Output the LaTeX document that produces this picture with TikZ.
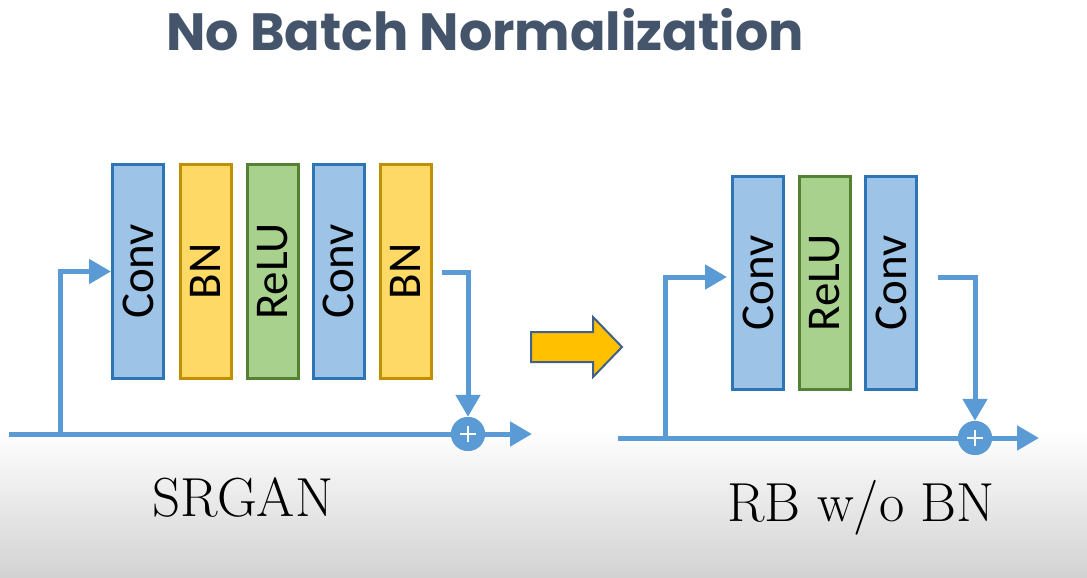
\documentclass[tikz,border=0pt]{standalone}
\usepackage{fontspec}
\setmainfont{Latin Modern Roman}
\newfontfamily\titlefont{Poppins Bold}
\newfontfamily\boxfont{Carlito}
\usetikzlibrary{arrows.meta,positioning,calc}
\definecolor{titlecol}{HTML}{44546A}
\definecolor{convfill}{HTML}{9DC3E6}
\definecolor{convdraw}{HTML}{2E75B6}
\definecolor{bnfill}{HTML}{FFD966}
\definecolor{bndraw}{HTML}{BF9000}
\definecolor{relufill}{HTML}{A9D18E}
\definecolor{reludraw}{HTML}{548235}
\definecolor{linecol}{HTML}{5B9BD5}
\definecolor{bigarrowfill}{HTML}{FFC000}
\definecolor{bigarrowdraw}{HTML}{41618C}
\definecolor{bgbottom}{HTML}{D2D2D2}
\tikzset{
  layer/.style={minimum width=51pt, minimum height=214pt, line width=3pt, inner sep=0pt},
  convbox/.style={layer, fill=convfill, draw=convdraw},
  bnbox/.style={layer, fill=bnfill, draw=bndraw},
  relubox/.style={layer, fill=relufill, draw=reludraw},
  boxtext/.style={font=\boxfont\fontsize{47}{47}\selectfont, rotate=90},
  conn/.style={draw=linecol, line width=5pt},
  connarrow/.style={conn, -{Triangle[length=22pt,width=24pt]}},
  plusnode/.style={circle, fill=linecol, minimum size=34pt, inner sep=0pt},
  caption/.style={font=\fontsize{55}{55}\selectfont, text=black},
}
\begin{document}
\begin{tikzpicture}[x=1pt,y=-1pt]
\useasboundingbox (0,0) rectangle (1087,578);
\fill[white] (0,0) rectangle (1087,578);
\shade[top color=white, bottom color=bgbottom] (0,430) rectangle (1087,578);
% title
\node[font=\titlefont\fontsize{52.4}{52.4}\selectfont, text=titlecol, anchor=base] (title) at (485,51) {No Batch Normalization};
% ---------------- left: SRGAN ----------------
\node[convbox] (c1) at (138,271.5) {};
\node[bnbox] (b1) at (205.5,271.5) {};
\node[relubox] (r1) at (272.5,271.5) {};
\node[convbox] (c2) at (338.5,271.5) {};
\node[bnbox] (b2) at (405.5,271.5) {};
\node[boxtext] at (c1) {Conv};
\node[boxtext] at (b1) {BN};
\node[boxtext] at (r1) {ReLU};
\node[boxtext] at (c2) {Conv};
\node[boxtext] at (b2) {BN};
\coordinate (inL) at (9,434);
\coordinate (brL) at (60,434);
\coordinate (outL) at (442,272);
\coordinate (endL) at (532,434);
\node[plusnode] (pL) at (468,434) {};
\draw[conn] (inL) -- (pL.center);
\draw[connarrow] (brL) |- (c1.west);
\draw[connarrow] (outL) -| (pL.north);
\draw[connarrow] (pL.center) -- (endL);
\node[plusnode] at (pL) {};
\draw[white, line width=2.5pt] ($(pL)+(-8,0)$) -- ($(pL)+(8,0)$) ($(pL)+(0,-8)$) -- ($(pL)+(0,8)$);
\node[caption, anchor=base] (capL) at (243,516) {SRGAN};
% big arrow
\draw[fill=bigarrowfill, draw=bigarrowdraw, line width=2pt, line join=miter]
  (531,332) -- (593,332) -- (593,317) -- (622,347) -- (593,377) -- (593,362) -- (531,362) -- cycle;
% ---------------- right: RB w/o BN ----------------
\node[convbox, minimum height=213pt] (c3) at (758,283) {};
\node[relubox, minimum height=213pt] (r3) at (825,283) {};
\node[convbox, minimum height=213pt] (c4) at (891,283) {};
\node[boxtext] at (c3) {Conv};
\node[boxtext] at (r3) {ReLU};
\node[boxtext] at (c4) {Conv};
\coordinate (inR) at (618,438);
\coordinate (brR) at (665,438);
\coordinate (outR) at (938,277);
\coordinate (endR) at (1039,438);
\node[plusnode] (pR) at (975,438) {};
\draw[conn] (inR) -- (pR.center);
\draw[connarrow, shorten >=4pt] (brR) |- (c3.west |- outR);
\draw[connarrow] (outR) -| (pR.north);
\draw[connarrow] (pR.center) -- (endR);
\node[plusnode] at (pR) {};
\draw[white, line width=2.5pt] ($(pR)+(-8,0)$) -- ($(pR)+(8,0)$) ($(pR)+(0,-8)$) -- ($(pR)+(0,8)$);
\node[caption, anchor=base] (capR) at (861,521) {RB w/o BN};
\end{tikzpicture}
\end{document}
